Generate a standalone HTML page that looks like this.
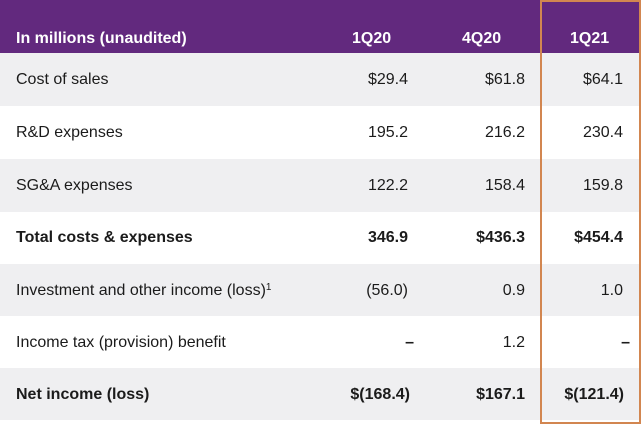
<!DOCTYPE html>
<html>
<head>
<meta charset="utf-8">
<style>
html,body{margin:0;padding:0;background:#fff;}
body{width:644px;height:425px;position:relative;overflow:hidden;font-family:"Liberation Sans",Arial,sans-serif;color:#1b1b1b;}
.hdr{position:absolute;left:0;top:0;width:640px;height:53px;background:#62297e;}
.row{position:absolute;left:0;width:640px;}
.g{background:#efeff1;}
.t{position:absolute;font-size:16px;white-space:nowrap;line-height:20px;}
.b{font-weight:bold;}
.w{color:#fff;font-weight:bold;}
.lab{left:16px;}
.c1{right:236px;text-align:right;}
.c2{right:119px;text-align:right;}
.c3{right:21px;text-align:right;}
.box{position:absolute;left:540px;top:0;width:97px;height:420px;border:2px solid #d28650;}
sup{font-size:10px;vertical-align:top;position:relative;top:-3px;}
</style>
</head>
<body>
<div class="hdr"></div>
<div class="t w lab" style="top:29px;">In millions (unaudited)</div>
<div class="t w" style="top:29px;left:352px;">1Q20</div>
<div class="t w" style="top:29px;left:462px;">4Q20</div>
<div class="t w" style="top:29px;left:570px;">1Q21</div>

<div class="row g" style="top:53px;height:53px;"></div>
<div class="row" style="top:106px;height:53px;"></div>
<div class="row g" style="top:159px;height:53px;"></div>
<div class="row" style="top:212px;height:52px;"></div>
<div class="row g" style="top:264px;height:52px;"></div>
<div class="row" style="top:316px;height:52px;"></div>
<div class="row g" style="top:368px;height:52px;"></div>

<!-- row 1 -->
<div class="t lab" style="top:70px;">Cost of sales</div>
<div class="t c1" style="top:70px;">$29.4</div>
<div class="t c2" style="top:70px;">$61.8</div>
<div class="t c3" style="top:70px;">$64.1</div>
<!-- row 2 -->
<div class="t lab" style="top:123px;">R&amp;D expenses</div>
<div class="t c1" style="top:123px;">195.2</div>
<div class="t c2" style="top:123px;">216.2</div>
<div class="t c3" style="top:123px;">230.4</div>
<!-- row 3 -->
<div class="t lab" style="top:176px;">SG&amp;A expenses</div>
<div class="t c1" style="top:176px;">122.2</div>
<div class="t c2" style="top:176px;">158.4</div>
<div class="t c3" style="top:176px;">159.8</div>
<!-- row 4 -->
<div class="t lab b" style="top:228px;">Total costs &amp; expenses</div>
<div class="t c1 b" style="top:228px;">346.9</div>
<div class="t c2 b" style="top:228px;">$436.3</div>
<div class="t c3 b" style="top:228px;">$454.4</div>
<!-- row 5 -->
<div class="t lab" style="top:281px;">Investment and other income (loss)<sup>1</sup></div>
<div class="t c1" style="top:281px;">(56.0)</div>
<div class="t c2" style="top:281px;">0.9</div>
<div class="t c3" style="top:281px;">1.0</div>
<!-- row 6 -->
<div class="t lab" style="top:333px;">Income tax (provision) benefit</div>
<div class="t b" style="top:333px;right:230px;">–</div>
<div class="t c2" style="top:333px;">1.2</div>
<div class="t b" style="top:333px;right:14px;">–</div>
<!-- row 7 -->
<div class="t lab b" style="top:385px;">Net income (loss)</div>
<div class="t c1 b" style="top:385px;right:234px;">$(168.4)</div>
<div class="t c2 b" style="top:385px;">$167.1</div>
<div class="t c3 b" style="top:385px;right:20px;">$(121.4)</div>

<div class="box"></div>
</body>
</html>
